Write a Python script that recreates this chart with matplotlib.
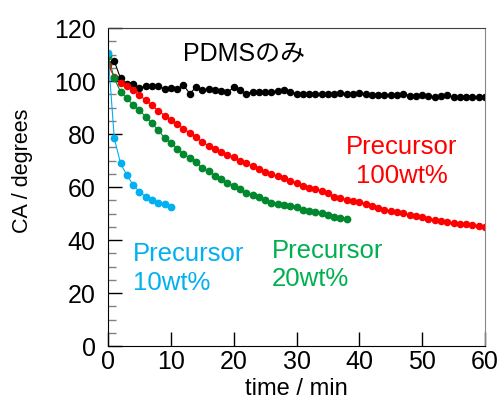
import matplotlib.pyplot as plt
from matplotlib.ticker import MultipleLocator

plt.rcParams['font.family'] = ['Liberation Sans', 'Noto Sans CJK JP', 'DejaVu Sans']

# 測定時間 (min)
t_pdms = [0, 1, 2, 3, 4, 5, 6, 7, 8, 9, 10, 11, 12, 13, 14, 15, 16, 17, 18, 19, 20,
          21, 22, 23, 24, 25, 26, 27, 28, 29, 30, 31, 32, 33, 34, 35, 36, 37, 38, 39, 40,
          41, 42, 43, 44, 45, 46, 47, 48, 49, 50, 51, 52, 53, 54, 55, 56, 57, 58, 59, 60]
t_100 = [0, 1, 2, 3, 4, 5, 6, 7, 8, 9, 10, 11, 12, 13, 14, 15, 16, 17, 18, 19, 20,
         21, 22, 23, 24, 25, 26, 27, 28, 29, 30, 31, 32, 33, 34, 35, 36, 37, 38, 39, 40,
         41, 42, 43, 44, 45, 46, 47, 48, 49, 50, 51, 52, 53, 54, 55, 56, 57, 58, 59, 60]
t_20 = [0, 1, 2, 3, 4, 5, 6, 7, 8, 9, 10, 11, 12, 13, 14, 15, 16, 17, 18, 19, 20,
        21, 22, 23, 24, 25, 26, 27, 28, 29, 30, 31, 32, 33, 34, 35, 36, 37, 38]
t_10 = [0, 1, 2, 3, 4, 5, 6, 7, 8, 9, 10]

# 接触角 (degrees)
ca_pdms = [106.5, 107.5, 101.0, 99.0, 99.0, 97.5, 98.0, 98.0, 98.0, 97.0, 97.2,
           96.9, 98.5, 95.3, 97.6, 96.6, 96.9, 96.6, 96.3, 95.7, 97.6,
           96.6, 95.3, 96.0, 96.0, 96.0, 96.0, 96.2, 96.5, 96.0, 95.2,
           95.1, 95.3, 95.1, 95.3, 95.0, 95.2, 95.4, 95.0, 95.2, 95.6,
           95.0, 94.8, 94.7, 94.9, 94.7, 94.9, 95.1, 94.4, 94.5, 94.9,
           94.2, 94.0, 94.3, 94.6, 94.0, 93.8, 93.9, 94.0, 93.8, 93.8]
ca_100 = [106.0, 101.6, 99.4, 98.0, 96.6, 94.7, 92.8, 90.8, 88.8, 87.0, 85.3,
          83.7, 82.1, 80.4, 78.8, 77.1, 75.5, 74.4, 73.3, 72.2, 71.2,
          70.0, 68.9, 67.9, 67.0, 65.8, 64.8, 64.0, 63.4, 62.4, 61.4,
          60.5, 59.8, 59.3, 58.6, 57.6, 56.4, 55.8, 55.3, 54.8, 54.3,
          53.7, 52.8, 52.0, 51.5, 51.0, 50.6, 50.1, 49.6, 49.1, 48.6,
          48.1, 47.6, 47.2, 46.8, 46.5, 46.2, 45.9, 45.6, 45.3, 45.0]
ca_20 = [109.5, 101.0, 96.0, 93.5, 91.0, 89.0, 86.5, 84.0, 81.5, 78.5, 76.8,
         74.5, 72.5, 71.0, 69.3, 67.2, 66.0, 64.3, 63.0, 61.7, 60.4,
         59.2, 57.8, 57.0, 56.1, 55.1, 54.0, 53.5, 53.2, 52.9, 52.6,
         51.3, 51.0, 50.5, 50.1, 49.5, 48.8, 48.3, 47.8]
ca_10 = [110.5, 78.4, 68.9, 64.5, 60.8, 58.2, 56.4, 55.1, 54.1, 53.6, 52.6]

fig = plt.figure(figsize=(5.04, 4.01), dpi=100)
ax = fig.add_axes([0.2143, 0.137, 0.748, 0.793])

ax.plot(t_pdms, ca_pdms, 'o-', color='black', ms=4.4, lw=0.8)
ax.plot(t_100, ca_100, 'o-', color='#ff0000', ms=4.4, lw=0.8)
ax.plot(t_20, ca_20, 'o-', color='#00882e', mec='#00882e', ms=4.6, lw=0.8)
ax.plot(t_10, ca_10, 'o-', color='#00b0f0', ms=4.6, lw=0.8)

ax.set_xlim(0, 60)
ax.set_ylim(0, 120)
ax.xaxis.set_major_locator(MultipleLocator(10))
ax.yaxis.set_major_locator(MultipleLocator(20))
ax.yaxis.set_minor_locator(MultipleLocator(5))
ax.tick_params(axis='both', which='major', direction='in', length=10, width=1,
               labelsize=18)
ax.tick_params(axis='y', which='major', pad=9)
ax.tick_params(axis='x', which='major', pad=3)
ax.tick_params(axis='y', which='minor', direction='in', length=5.5, width=1,
               color='#808080')

ax.spines['left'].set_color('black')
ax.spines['bottom'].set_color('black')
ax.spines['top'].set_color('#404040')
ax.spines['right'].set_color('#888888')

ax.set_xlabel('time / min', fontsize=17, labelpad=3)
ax.set_ylabel('CA / degrees', fontsize=15.5)
ax.yaxis.set_label_coords(-0.2, 0.55)

ax.text(0.36, 0.92, 'PDMSのみ', transform=ax.transAxes, fontsize=18,
        ha='center', va='center')
ax.text(0.78, 0.58, 'Precursor\n100wt%', transform=ax.transAxes, fontsize=18.5,
        color='#ff0000', ha='center', va='center', linespacing=1.25)
ax.text(0.065, 0.245, 'Precursor\n10wt%', transform=ax.transAxes, fontsize=18.5,
        color='#00b0f0', ha='left', va='center', linespacing=1.25)
ax.text(0.435, 0.255, 'Precursor\n20wt%', transform=ax.transAxes, fontsize=18.5,
        color='#00b050', ha='left', va='center', linespacing=1.25)

fig.savefig('out.png', dpi=100)
